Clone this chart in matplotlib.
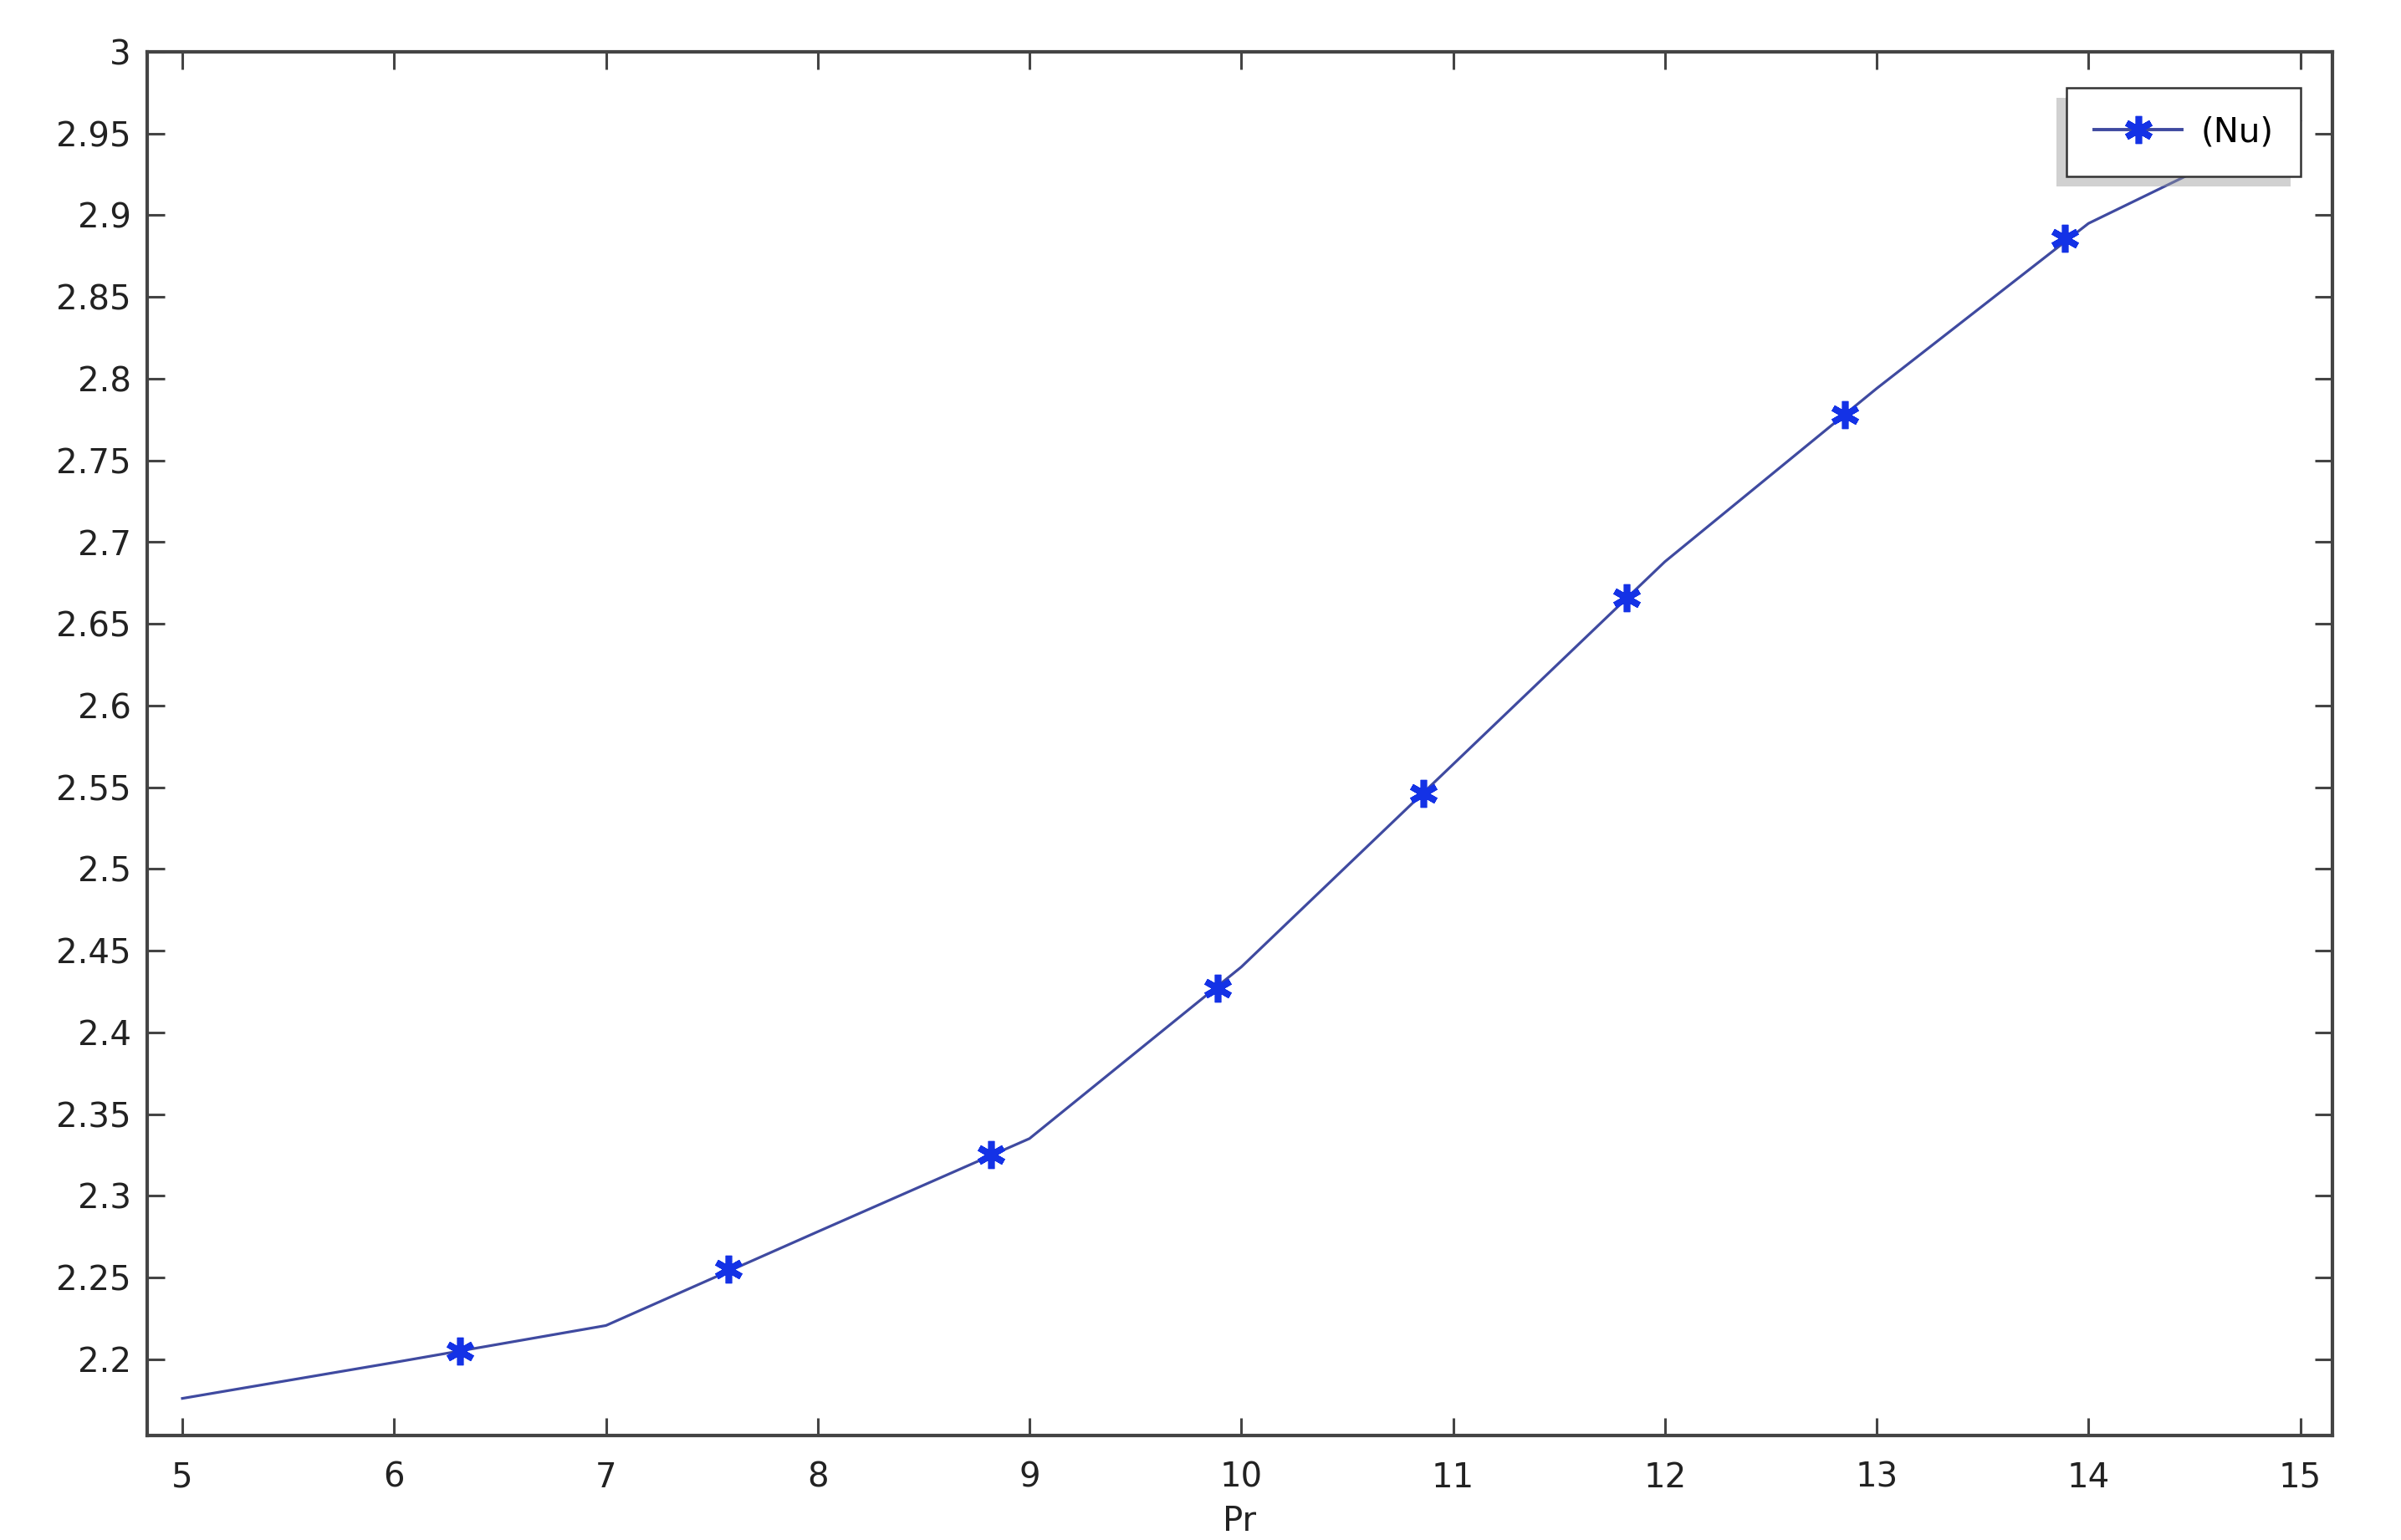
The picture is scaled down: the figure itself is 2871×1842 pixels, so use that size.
import matplotlib
matplotlib.use("Agg")
import matplotlib.pyplot as plt
from matplotlib.lines import Line2D
from matplotlib.patches import Rectangle
from matplotlib.transforms import IdentityTransform

# Curve vertices (Pr, Nu)
pr_line = [5, 6, 7, 8, 9, 10, 11, 12, 13, 14, 15]
nu_line = [2.176, 2.198, 2.2206, 2.278, 2.335, 2.440, 2.564, 2.688, 2.794, 2.895, 2.958]

# Marker positions
pr_mark = [6.31, 7.58, 8.82, 9.89, 10.86, 11.82, 12.85, 13.89]
nu_mark = [2.205, 2.255, 2.325, 2.427, 2.546, 2.666, 2.778, 2.886]

x_ticks = [5, 6, 7, 8, 9, 10, 11, 12, 13, 14, 15]
y_ticks = [2.2, 2.25, 2.3, 2.35, 2.4, 2.45, 2.5, 2.55, 2.6, 2.65, 2.7, 2.75, 2.8,
           2.85, 2.9, 2.95, 3.0]
y_tick_labels = ["2.2", "2.25", "2.3", "2.35", "2.4", "2.45", "2.5", "2.55", "2.6",
                 "2.65", "2.7", "2.75", "2.8", "2.85", "2.9", "2.95", "3"]
series_label = "(Nu)"
x_label = "Pr"

plt.rcParams['font.family'] = ['DejaVu Sans']
FS = 29
line_color = '#3f4aa0'
mark_color = '#1432e6'
spine_color = '#444444'

fig = plt.figure(figsize=(28.71, 18.42), dpi=100)
ax = fig.add_axes([176 / 2871, 1 - 1717 / 1842, (2789 - 176) / 2871, (1717 - 62) / 1842])

ax.plot(pr_line, nu_line, color=line_color, lw=2.3, zorder=2)
ax.plot(pr_mark, nu_mark, linestyle='none', marker=(6, 2, 0), markersize=24,
        markeredgewidth=5.5, color=mark_color, zorder=3)

ax.set_xlim(4.834, 15.152)
ax.set_ylim(2.1533, 3.0)
ax.set_xticks(x_ticks)
ax.set_xticklabels([str(v) for v in x_ticks])
ax.set_yticks(y_ticks)
ax.set_yticklabels(y_tick_labels)

ax.tick_params(axis='both', which='major', direction='in', length=15, width=2.2,
               color=spine_color, labelsize=FS, labelcolor='#222222',
               top=True, right=True)
ax.tick_params(axis='x', pad=22)
ax.tick_params(axis='y', pad=14)
for s in ax.spines.values():
    s.set_color(spine_color)
    s.set_linewidth(3.0)

ax.set_xlabel(x_label, fontsize=FS, color='#222222', labelpad=9)

handle = Line2D([], [], color=line_color, lw=2.8, marker=(6, 2, 0), markersize=24,
                markeredgewidth=5.5, markeredgecolor=mark_color, markerfacecolor=mark_color)
leg = ax.legend([handle], [series_label], loc='upper right',
                bbox_to_anchor=(0.9855, 0.974), borderaxespad=0, fontsize=FS,
                fancybox=False, frameon=True, handlelength=2.6, handletextpad=0.55,
                borderpad=0.82, framealpha=1)
leg.get_frame().set_edgecolor('#333333')
leg.get_frame().set_linewidth(1.8)
leg.set_zorder(6)

fig.canvas.draw()
bb = leg.get_window_extent()
shadow = Rectangle((bb.x0 - 12, bb.y0 - 12), bb.width, bb.height,
                   transform=IdentityTransform(), facecolor='#9a9a9a',
                   edgecolor='none', alpha=0.45, zorder=5)
ax.add_artist(shadow)

fig.savefig("out.png", dpi=100, facecolor='white')
